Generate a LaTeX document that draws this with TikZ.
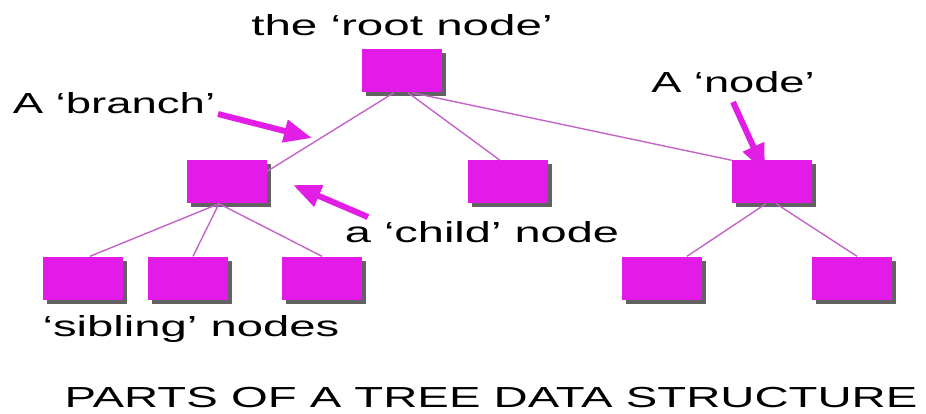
\documentclass[tikz,border=0pt]{standalone}
\usepackage{fontspec}
\setmainfont{Liberation Sans}
\usetikzlibrary{shadows,arrows.meta}
\definecolor{boxmag}{RGB}{228,26,232}
\definecolor{edgecol}{RGB}{196,100,200}
\definecolor{arrmag}{RGB}{226,30,230}
\newcommand{\sx}[2]{\scalebox{#1}[1]{#2}}
\tikzset{
  treebox/.style={draw=none, fill=boxmag, minimum width=80pt, minimum height=43pt, inner sep=0pt,
    drop shadow={shadow xshift=4pt, shadow yshift=-4pt, fill=black!72, opacity=.85}},
  branchline/.style={draw=edgecol, line width=1.4pt},
  pointer/.style={draw=arrmag, line width=6pt, -{Triangle[length=28pt,width=22pt]}},
  lbl/.style={inner sep=0pt, anchor=base, font=\fontsize{29}{35}\selectfont}
}
\begin{document}
\begin{tikzpicture}[x=1pt,y=-1pt]
\useasboundingbox[fill=white] (0,0) rectangle (926,414);
% boxes
\node[treebox] (root) at (402,71) {};
\node[treebox] (lc) at (227,182) {};
\node[treebox] (mc) at (508,182) {};
\node[treebox] (rc) at (772,182) {};
\node[treebox] (l1) at (83,278) {};
\node[treebox] (l2) at (188,278) {};
\node[treebox] (l3) at (322,278) {};
\node[treebox] (r1) at (662,278) {};
\node[treebox] (r2) at (852,278) {};
% branches
\draw[branchline] ([xshift=-8pt]root.south) -- (lc.15);
\draw[branchline] ([xshift=6pt]root.south) -- ([xshift=-8pt]mc.north);
\draw[branchline] ([xshift=10pt]root.south) -- (rc.north west);
\draw[branchline] ([xshift=-8pt]lc.south) -- ([xshift=7pt]l1.north);
\draw[branchline] ([xshift=-8pt]lc.south) -- ([xshift=5pt]l2.north);
\draw[branchline] ([xshift=-8pt]lc.south) -- (l3.north);
\draw[branchline] ([xshift=-6pt]rc.south) -- ([xshift=25pt]r1.north);
\draw[branchline] ([xshift=4pt]rc.south) -- ([xshift=5pt]r2.north);
% labels
\node[lbl] (troot) at (402,36) {\sx{1.64}{the ‘root node’}};
\node[lbl] (tbranch) at (114,114) {\sx{1.57}{A ‘branch’}};
\node[lbl] (tnode) at (733,93) {\sx{1.56}{A ‘node’}};
\node[lbl] (tchild) at (482,243) {\sx{1.62}{a ‘child’ node}};
\node[lbl] (tsib) at (191,336) {\sx{1.63}{‘sibling’ nodes}};
\node[lbl] (title) at (491,407) {\sx{1.63}{PARTS OF A TREE DATA STRUCTURE}};
% pointer arrows
\coordinate (bt) at (218,114);
\coordinate (bh) at (312,138);
\coordinate (nt) at (733,102);
\coordinate (ct) at (368,217);
\coordinate (ch) at (293,185);
\draw[pointer] (bt) -- (bh);
\draw[pointer] (nt) -- ([xshift=-7pt,yshift=-12pt]rc.north);
\draw[pointer] (ct) -- (ch);
\end{tikzpicture}
\end{document}
